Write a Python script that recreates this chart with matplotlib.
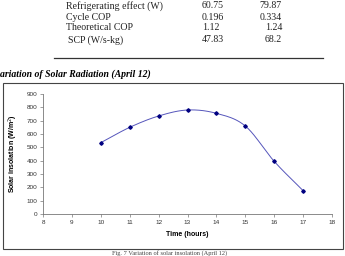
"""Solar radiation variation (April 12) - page crop with table fragment."""
import numpy as np
import matplotlib
matplotlib.use("Agg")
import matplotlib.pyplot as plt
from matplotlib.patches import Rectangle
from matplotlib.lines import Line2D

# ---------------------------------------------------------------------------
# Data
# ---------------------------------------------------------------------------
table_labels = ["Refrigerating effect (W)", "Cycle COP", "Theoretical COP", "SCP (W/s-kg)"]
table_col1 = ["60.75", "0.196", "1.12", "47.83"]
table_col2 = ["79.87", "0.334", "1.24", "68.2"]

hours = [10, 11, 12, 13, 14, 15, 16, 17]
insolation = [535, 650, 735, 780, 755, 660, 395, 175]

W, H = 345, 256
DPI = 100


def fx(px):
    return px / W


def fy(py):
    return 1 - py / H


def smooth(x, y, n=20):
    # Catmull-Rom style smoothing, like the spreadsheet "smoothed line"
    x = np.asarray(x, float)
    y = np.asarray(y, float)
    px = np.concatenate([[2 * x[0] - x[1]], x, [2 * x[-1] - x[-2]]])
    py = np.concatenate([[2 * y[0] - y[1]], y, [2 * y[-1] - y[-2]]])
    xs, ys = [], []
    t = np.linspace(0, 1, n, endpoint=False)
    for i in range(1, len(px) - 2):
        for arr, out in ((px, xs), (py, ys)):
            p0, p1, p2, p3 = arr[i - 1], arr[i], arr[i + 1], arr[i + 2]
            out.extend(0.5 * ((2 * p1) + (-p0 + p2) * t
                              + (2 * p0 - 5 * p1 + 4 * p2 - p3) * t ** 2
                              + (-p0 + 3 * p1 - 3 * p2 + p3) * t ** 3))
    xs.append(x[-1])
    ys.append(y[-1])
    return np.array(xs), np.array(ys)


fig = plt.figure(figsize=(W / DPI, H / DPI), dpi=DPI)
fig.patch.set_facecolor("white")

# ── table fragment ──────────────────────────────────────────────────────────
serif = "Liberation Serif"
row_y = [6, 17, 28, 40]
for i, (lab, c1, c2) in enumerate(zip(table_labels, table_col1, table_col2)):
    lx = 66 if i < 3 else 68
    fig.text(fx(lx), fy(row_y[i]), lab, family=serif, fontsize=7.1,
             ha="left", va="center", color="#222222")
    fig.text(fx(202), fy(row_y[i]), c1, family=serif, fontsize=7.1,
             ha="left", va="center", color="#222222")
    fig.text(fx(282), fy(row_y[i]), c2, family=serif, fontsize=7.1,
             ha="right", va="center", color="#222222")
fig.add_artist(Line2D([fx(54), fx(323)], [fy(58), fy(58)], color="#333333", lw=0.9))

fig.text(fx(0), fy(74), "ariation of Solar Radiation (April 12)", family=serif,
         fontsize=7, style="italic", weight="bold", ha="left", va="center")

# ── chart frame ─────────────────────────────────────────────────────────────
fig.add_artist(Rectangle((fx(3), fy(249)), fx(340), (249 - 83) / H,
                         fill=False, edgecolor="#444444", lw=0.8))

ax = fig.add_axes([fx(43), fy(214), fx(332 - 43), (214 - 94) / H])
sx, sy = smooth(hours, insolation)
ax.plot(sx, sy, color="#5555bb", lw=0.7)
ax.plot(hours, insolation, ls="none", marker="D", ms=1.8, color="#000080")

ax.set_xlim(8, 18)
ax.set_ylim(0, 900)
ax.set_xticks(range(8, 19))
ax.set_yticks(range(0, 901, 100))
sans = "Liberation Sans"
for lab in ax.get_xticklabels() + ax.get_yticklabels():
    lab.set_family(sans)
    lab.set_fontsize(4.6)
    lab.set_color("#333333")
ax.tick_params(length=2, width=0.5, color="#777777", pad=2)
for s in ("top", "right"):
    ax.spines[s].set_visible(False)
for s in ("left", "bottom"):
    ax.spines[s].set_color("#777777")
    ax.spines[s].set_linewidth(0.6)

ax.set_xlabel("Time (hours)", family=sans, fontsize=5, weight="bold", labelpad=5)
ax.set_ylabel("Solar insolation (W/m$^2$)", family=sans, fontsize=5,
              weight="bold", labelpad=5)

# caption, squeezed under the chart frame
fig.text(fx(170), fy(255.5), "Fig. 7 Variation of solar insolation (April 12)",
         family=serif, fontsize=4.6, ha="center", va="bottom", color="#444444")

fig.savefig("out.png", dpi=DPI)
